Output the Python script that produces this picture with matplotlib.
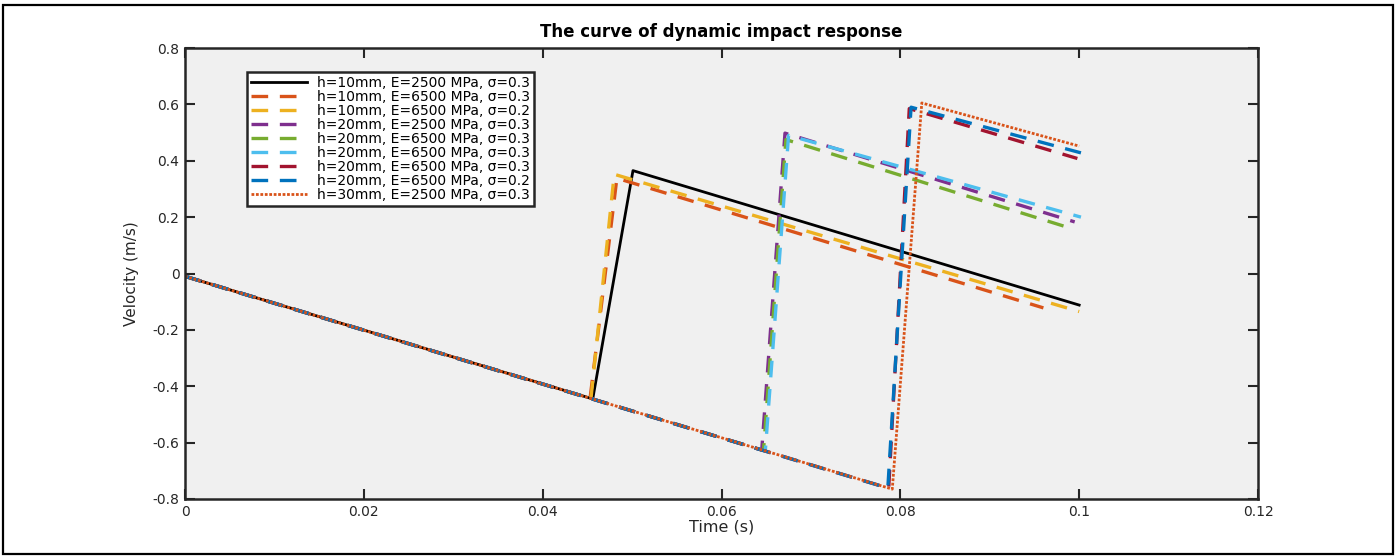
import matplotlib
matplotlib.use("Agg")
import matplotlib.pyplot as plt
from matplotlib.patches import Rectangle

plt.rcParams['font.family'] = ['DejaVu Sans']

# ---- data (time in s, velocity in m/s) ----
labels = [
    "h=10mm, E=2500 MPa, σ=0.3",
    "h=10mm, E=6500 MPa, σ=0.3",
    "h=10mm, E=6500 MPa, σ=0.2",
    "h=20mm, E=2500 MPa, σ=0.3",
    "h=20mm, E=6500 MPa, σ=0.3",
    "h=20mm, E=6500 MPa, σ=0.3",
    "h=20mm, E=6500 MPa, σ=0.3",
    "h=20mm, E=6500 MPa, σ=0.2",
    "h=30mm, E=2500 MPa, σ=0.3",
]
t1 = [0.0, 0.0456, 0.0501, 0.1000]
v1 = [-0.01, -0.445, 0.365, -0.112]
t2 = [0.0, 0.0453, 0.0483, 0.0960]
v2 = [-0.01, -0.443, 0.338, -0.122]
t3 = [0.0, 0.0454, 0.0480, 0.1000]
v3 = [-0.01, -0.444, 0.352, -0.135]
t4 = [0.0, 0.0645, 0.0671, 0.0995]
v4 = [-0.01, -0.626, 0.498, 0.183]
t5 = [0.0, 0.0647, 0.0672, 0.0988]
v5 = [-0.01, -0.628, 0.475, 0.163]
t6 = [0.0, 0.0649, 0.0675, 0.1002]
v6 = [-0.01, -0.630, 0.490, 0.200]
t7 = [0.0, 0.0787, 0.0810, 0.0998]
v7 = [-0.01, -0.762, 0.585, 0.408]
t8 = [0.0, 0.0786, 0.0812, 0.1002]
v8 = [-0.01, -0.761, 0.590, 0.428]
t9 = [0.0, 0.0791, 0.0824, 0.1000]
v9 = [-0.01, -0.765, 0.605, 0.452]
series_t = [t1, t2, t3, t4, t5, t6, t7, t8, t9]
series_v = [v1, v2, v3, v4, v5, v6, v7, v8, v9]

xticks = [0, 0.02, 0.04, 0.06, 0.08, 0.1, 0.12]
xticklabels = ["0", "0.02", "0.04", "0.06", "0.08", "0.1", "0.12"]
yticks = [-0.8, -0.6, -0.4, -0.2, 0, 0.2, 0.4, 0.6, 0.8]
yticklabels = ["-0.8", "-0.6", "-0.4", "-0.2", "0", "0.2", "0.4", "0.6", "0.8"]

# ---- styles ----
colors = ["#000000", "#D95319", "#EDB120", "#7E2F8E", "#77AC30",
          "#4DBEEE", "#A2142F", "#0072BD", "#D95319"]
dash = (0, (5, 3.5))
styles = ["-", dash, dash, dash, dash, dash, dash, dash, (0, (1, 0.6))]
widths = [2.0, 2.4, 2.4, 2.4, 2.4, 2.4, 2.4, 2.4, 2.0]

W, H = 1397, 559
fig = plt.figure(figsize=(W / 100, H / 100), dpi=100)
fig.patch.set_facecolor("white")
ax = fig.add_axes([185 / W, 1 - 499 / H, (1258 - 185) / W, (499 - 48) / H])
ax.set_facecolor("#f0f0f0")

for t, v, c, ls, lw, lab in zip(series_t, series_v, colors, styles, widths, labels):
    ax.plot(t, v, color=c, linestyle=ls, linewidth=lw, label=lab)

ax.set_xlim(0, 0.12)
ax.set_ylim(-0.8, 0.8)
ax.set_xticks(xticks)
ax.set_xticklabels(xticklabels)
ax.set_yticks(yticks)
ax.set_yticklabels(yticklabels)
ax.tick_params(direction="in", length=7, width=1.5, top=True, right=True,
               labelsize=10, colors="#262626", pad=4)
for sp in ax.spines.values():
    sp.set_linewidth(1.8)
    sp.set_color("#262626")

ax.set_title("The curve of dynamic impact response", fontsize=12,
             fontweight="bold", pad=8)
ax.set_xlabel("Time (s)", fontsize=11.5, labelpad=1, color="#262626")
ax.set_ylabel("Velocity (m/s)", fontsize=11, labelpad=10, color="#262626")

leg = ax.legend(loc="upper left", bbox_to_anchor=(0.058, 0.947), fontsize=10,
                handlelength=4.0, handletextpad=0.7, labelspacing=0.0,
                borderpad=0.3, borderaxespad=0, frameon=True, fancybox=False,
                edgecolor="#262626", facecolor="white", framealpha=1)
leg.get_frame().set_linewidth(1.8)

fig.add_artist(Rectangle((3 / W, 5 / H), (1393 - 3) / W, (554 - 5) / H,
                         transform=fig.transFigure, fill=False,
                         edgecolor="black", linewidth=1.6))

fig.savefig("out.png", dpi=100)
